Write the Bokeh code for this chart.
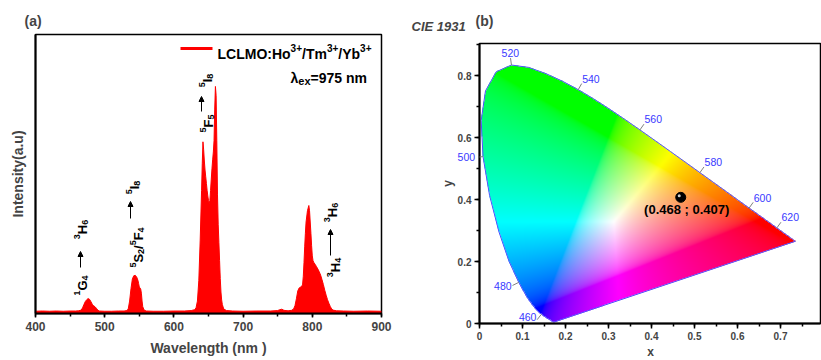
import numpy as np
from bokeh.plotting import figure
from bokeh.layouts import row, column
from bokeh.models import Label, Arrow, NormalHead, SingleIntervalTicker, FixedTicker, Range1d, Spacer
from bokeh.embed import file_html
from bokeh.resources import INLINE

FONT = "Liberation Sans"

# ---------------- data: panel (a) emission spectrum ----------------
wavelength = [400, 410, 420, 430, 440, 450, 458, 462, 466, 468, 470, 472, 474, 476, 478, 480, 482, 484,
              486, 488, 490, 492, 500, 510, 520, 528, 532, 534, 536, 538, 540, 542, 544, 546, 548, 549,
              550, 552, 553, 554, 555, 557, 560, 570, 585, 600, 615, 625, 630, 632, 634, 636, 638, 640,
              641, 642, 643, 644, 645, 646, 647, 648, 649, 650, 651, 652, 653, 654, 655, 656, 657, 658,
              659, 660, 661, 662, 663, 664, 665, 666, 667, 668, 669, 670, 672, 676, 685, 700, 720, 740,
              750, 753, 756, 759, 765, 770, 773, 775, 777, 779, 781, 783, 785, 786, 787, 788, 789, 790,
              791, 793, 795, 796, 797, 798, 799, 800, 801, 802, 804, 806, 808, 810, 812, 814, 816, 818,
              820, 822, 824, 826, 828, 830, 835, 845, 860, 880, 900]
intensity = [0.5, 0.6, 0.5, 0.6, 0.5, 0.6, 0.6, 0.7, 1.0, 2.0, 3.5, 4.8, 5.6, 6.1, 5.8, 4.8, 3.6, 2.9,
             2.5, 1.8, 1.0, 0.6, 0.5, 0.5, 0.6, 0.6, 0.8, 1.5, 5.0, 10.5, 14.8, 16.2, 16.4, 15.8, 14.2, 12.8,
             11.2, 10.4, 8.5, 5.0, 2.5, 1.0, 0.6, 0.5, 0.5, 0.6, 0.6, 0.8, 1.2, 2.0, 5.0, 14.0, 32.0, 54.0,
             66.0, 75.5, 72.0, 67.0, 63.0, 60.0, 57.0, 54.0, 51.5, 49.5, 48.2, 49.5, 54.0, 59.0, 63.5, 67.5, 71.0, 76.0,
             90.0, 100.0, 96.0, 76.0, 52.0, 39.0, 31.0, 23.0, 15.0, 9.0, 5.5, 3.5, 1.5, 0.8, 0.6, 0.5, 0.6, 0.6,
             0.8, 1.2, 1.4, 0.9, 0.7, 0.9, 1.5, 3.0, 6.0, 9.5, 10.8, 11.2, 11.6, 12.5, 16.0, 22.0, 29.0, 35.0,
             40.0, 45.0, 47.3, 45.0, 40.0, 35.0, 29.5, 25.0, 23.0, 22.2, 21.3, 20.3, 19.2, 18.0, 16.5, 14.5, 12.3, 9.8,
             7.6, 5.6, 4.0, 2.6, 1.5, 1.0, 0.7, 0.6, 0.5, 0.6, 0.5]

# rich-text markup: ^x / ^{..} superscript, _x / _{..} subscript
series_label = "LCLMO:Ho^{3+}/Tm^{3+}/Yb^{3+}"
excitation_label = "λ_{ex}=975 nm"
trans_lower = ["^1G_4", "^5S_2/^5F_4", "^5F_5", "^3H_4"]
trans_upper = ["^3H_6", "^5I_8", "^5I_8", "^3H_6"]

# ---------------- data: panel (b) CIE 1931 ----------------
locus_nm = [380, 385, 390, 395, 400, 405, 410, 415, 420, 425, 430, 435, 440, 445, 450, 455, 460, 465,
            470, 475, 480, 485, 490, 495, 500, 505, 510, 515, 520, 525, 530, 535, 540, 545, 550, 555,
            560, 565, 570, 575, 580, 585, 590, 595, 600, 605, 610, 615, 620, 625, 630, 635, 640, 645,
            650, 655, 660, 665, 670, 675, 680, 685, 690, 695, 700]
locus_x = [0.1741, 0.1740, 0.1738, 0.1736, 0.1733, 0.1730, 0.1726, 0.1721, 0.1714, 0.1703, 0.1689, 0.1669,
           0.1644, 0.1611, 0.1566, 0.1510, 0.1440, 0.1355, 0.1241, 0.1096, 0.0913, 0.0687, 0.0454, 0.0235,
           0.0082, 0.0039, 0.0139, 0.0389, 0.0743, 0.1142, 0.1547, 0.1929, 0.2296, 0.2658, 0.3016, 0.3373,
           0.3731, 0.4087, 0.4441, 0.4788, 0.5125, 0.5448, 0.5752, 0.6029, 0.6270, 0.6482, 0.6658, 0.6801,
           0.6915, 0.7006, 0.7079, 0.7140, 0.7190, 0.7230, 0.7260, 0.7283, 0.7300, 0.7311, 0.7320, 0.7327,
           0.7334, 0.7340, 0.7344, 0.7346, 0.7347]
locus_y = [0.0050, 0.0050, 0.0049, 0.0049, 0.0048, 0.0048, 0.0048, 0.0048, 0.0051, 0.0058, 0.0069, 0.0086,
           0.0109, 0.0138, 0.0177, 0.0227, 0.0297, 0.0399, 0.0578, 0.0868, 0.1327, 0.2007, 0.2950, 0.4127,
           0.5384, 0.6548, 0.7502, 0.8120, 0.8338, 0.8262, 0.8059, 0.7816, 0.7543, 0.7243, 0.6923, 0.6589,
           0.6245, 0.5896, 0.5547, 0.5202, 0.4866, 0.4544, 0.4242, 0.3965, 0.3725, 0.3514, 0.3340, 0.3197,
           0.3083, 0.2993, 0.2920, 0.2859, 0.2809, 0.2770, 0.2740, 0.2717, 0.2700, 0.2689, 0.2680, 0.2673,
           0.2666, 0.2660, 0.2656, 0.2654, 0.2653]
marked_nm = [460, 480, 500, 520, 540, 560, 580, 600, 620]
cie_point_x = [0.468]
cie_point_y = [0.407]
cie_point_text = "(0.468 ; 0.407)"

# ---------------- rich text helpers ----------------
CW = {'L': .611, 'C': .722, 'M': .833, 'O': .778, ':': .333, 'H': .722, 'o': .611, '/': .278, 'T': .611,
      'm': .889, 'Y': .667, 'b': .611, '+': .584, 'G': .778, 'S': .667, 'F': .611, 'I': .278, 'λ': .56,
      'e': .556, 'x': .556, '=': .584, ' ': .278, 'n': .611}


def parse_rich(s):
    runs, buf, i = [], "", 0
    while i < len(s):
        c = s[i]
        if c in "^_":
            if buf:
                runs.append((buf, 0))
                buf = ""
            sh = 1 if c == "^" else -1
            if s[i + 1] == "{":
                j = s.index("}", i)
                runs.append((s[i + 2:j], sh))
                i = j + 1
            else:
                runs.append((s[i + 1], sh))
                i += 2
        else:
            buf += c
            i += 1
    if buf:
        runs.append((buf, 0))
    return runs


def twidth(t, size):
    return sum(CW.get(ch, 0.556) for ch in t) * size


def rich_label(fig, x, y, markup, size, small, vertical=False, align="center"):
    runs = parse_rich(markup)
    widths = [twidth(t, small if sh else size) for t, sh in runs]
    pos = -sum(widths) / 2 if align == "center" else 0.0
    for (t, sh), w in zip(runs, widths):
        up = -0.36 * size + (0.40 * size if sh == 1 else (-0.22 * size if sh == -1 else 0))
        if vertical:
            xo, yo, ang = -up, pos, np.pi / 2
        else:
            xo, yo, ang = pos, up, 0.0
        fig.add_layout(Label(x=x, y=y, x_offset=xo, y_offset=yo, text=t,
                             angle=ang, text_align="left", text_baseline="alphabetic", text_font=FONT,
                             text_font_style="bold", text_font_size=f"{small if sh else size}px",
                             text_color="black"))
        pos += w


def side_label(fig, side, cx, cy, text, **kw):
    """Free text placed in a border panel (canvas pixel units), so it is not clipped by the frame."""
    fig.add_layout(Label(x=cx, y=cy, x_units="canvas", y_units="canvas", text=text, text_font=FONT, **kw), side)


# ================= panel (a) =================
A_W, A_H = 400, 360
A_L, A_R, A_T, A_B = 35, 19, 34, 47
A_X0, A_X1 = 400, 900
A_Y0, A_Y1 = -0.5, 123.0
A_SX = (A_W - A_L - A_R) / (A_X1 - A_X0)
A_SY = (A_H - A_T - A_B) / (A_Y1 - A_Y0)


def a_data(px, py):
    return A_X0 + (px - A_L) / A_SX, A_Y0 + (A_H - A_B - py) / A_SY


p1 = figure(width=A_W, height=A_H, output_backend="svg", toolbar_location=None,
            x_range=Range1d(A_X0, A_X1), y_range=Range1d(A_Y0, A_Y1),
            min_border_left=A_L, min_border_right=A_R, min_border_top=A_T, min_border_bottom=A_B)
p1.background_fill_color = "white"
p1.border_fill_color = "white"
p1.outline_line_color = "black"
p1.outline_line_width = 1.5
p1.grid.visible = False

p1.varea(x=wavelength, y1=A_Y0, y2=intensity, fill_color="#ff0000")
p1.line(wavelength, intensity, line_color="#ff0000", line_width=1)

# legend (sample line + rich text)
lx0, ly0 = a_data(180, 48)
lx1, _ = a_data(212, 48)
p1.add_layout(Arrow(x_start=lx0, y_start=ly0, x_end=lx1, y_end=ly0, end=None, line_color="#ff0000",
                    line_width=3))
tx, ty = a_data(217, 48)
rich_label(p1, tx, ty, series_label, 14, 10, align="left")
tx, ty = a_data(290, 72)
rich_label(p1, tx, ty, excitation_label, 14, 11, align="left")

xa = p1.xaxis[0]
xa.ticker = SingleIntervalTicker(interval=100, num_minor_ticks=2)
xa.axis_label = "Wavelength (nm )"
xa.axis_label_text_font = FONT
xa.axis_label_text_font_style = "bold"
xa.axis_label_text_font_size = "14px"
xa.axis_label_standoff = 6
xa.major_label_text_font = FONT
xa.major_label_text_font_style = "bold"
xa.major_label_text_font_size = "12px"
xa.major_label_standoff = 4
xa.axis_line_width = 2
xa.major_tick_in = 0
xa.major_tick_out = 4
xa.minor_tick_in = 0
xa.minor_tick_out = 3
xa.major_tick_line_width = 1.5
xa.minor_tick_line_width = 1.5

ya = p1.yaxis[0]
ya.ticker = FixedTicker(ticks=[])
ya.axis_label = "Intensity(a.u)"
ya.axis_label_text_font = FONT
ya.axis_label_text_font_style = "bold"
ya.axis_label_text_font_size = "14px"
ya.axis_label_standoff = 10
ya.axis_line_width = 2
ya.major_tick_out = 0
ya.minor_tick_out = 0
ya.major_label_standoff = 0

# transition annotations (pixel anchors of the reference layout)
lower_px = [(77, 285), (133, 247), (203, 123), (330, 267)]
arrow_px = [(80, 267, 251), (130, 218, 201), (201, 111, 96), (330, 255, 229)]
upper_px = [(77, 229), (129, 187), (202, 80), (327, 212)]
for i in range(len(trans_lower)):
    x_, y_ = a_data(*lower_px[i])
    rich_label(p1, x_, y_, trans_lower[i], 13, 9, vertical=True)
    x_, y_ = a_data(*upper_px[i])
    rich_label(p1, x_, y_, trans_upper[i], 13, 9, vertical=True)
    ax_px, ay0_px, ay1_px = arrow_px[i]
    x0_, y0_ = a_data(ax_px, ay0_px)
    _, y1_ = a_data(ax_px, ay1_px)
    p1.add_layout(Arrow(x_start=x0_, y_start=y0_, x_end=x0_, y_end=y1_, line_width=1, line_color="black",
                        end=NormalHead(size=5, fill_color="black", line_color="black")))

side_label(p1, "above", 24, 20, "(a)", text_font_style="bold", text_font_size="14px",
           text_baseline="middle", text_align="left")

# ================= panel (b) =================
B_SPACE = 1
B_W, B_H = 421, 358
B_L, B_R, B_T, B_B = 79, 1, 42, 36
X_END = (B_W - B_L - B_R) / 430.0
Y_END = (B_H - B_T - B_B) / 310.0
SX = (B_W - B_L - B_R) / X_END
SY = (B_H - B_T - B_B) / Y_END

p2 = figure(width=B_W, height=B_H, output_backend="svg", toolbar_location=None,
            x_range=Range1d(0, X_END), y_range=Range1d(0, Y_END),
            min_border_left=B_L, min_border_right=B_R, min_border_top=B_T, min_border_bottom=B_B)
p2.background_fill_color = "white"
p2.border_fill_color = "white"
p2.outline_line_color = "black"
p2.outline_line_width = 1.5
p2.grid.visible = False

# chromaticity colour fill
lx_arr = np.array(locus_x)
ly_arr = np.array(locus_y)
nx_img, ny_img = 341, 280
gx = (np.arange(nx_img) + 0.5) / nx_img * X_END
gy = (np.arange(ny_img) + 0.5) / ny_img * Y_END
GX, GY = np.meshgrid(gx, gy)
inside = np.zeros(GX.shape, dtype=bool)
n = len(lx_arr)
j = n - 1
for i in range(n):
    xi, yi, xj, yj = lx_arr[i], ly_arr[i], lx_arr[j], ly_arr[j]
    if yi != yj:
        cond = ((yi > GY) != (yj > GY)) & (GX < (xj - xi) * (GY - yi) / (yj - yi) + xi)
        inside ^= cond
    j = i
Yc = np.maximum(GY, 1e-6)
Xc = GX / Yc
Zc = (1 - GX - GY) / Yc
R = 3.2406 * Xc - 1.5372 - 0.4986 * Zc
G = -0.9689 * Xc + 1.8758 + 0.0415 * Zc
B = 0.0557 * Xc - 0.2040 + 1.0570 * Zc
rgb = np.clip(np.stack([R, G, B], axis=-1), 0, None)
rgb = rgb / np.maximum(rgb.max(axis=-1, keepdims=True), 1e-9)
rgb = np.where(rgb <= 0.0031308, 12.92 * rgb, 1.055 * np.power(rgb, 1 / 2.4) - 0.055)
img = np.zeros((ny_img, nx_img, 4), dtype=np.uint8)
img[..., :3] = np.clip(rgb * 255, 0, 255).astype(np.uint8)
img[..., 3] = np.where(inside, 255, 0).astype(np.uint8)
img32 = img.view(dtype=np.uint32).reshape((ny_img, nx_img))
p2.image_rgba(image=[img32], x=0, y=0, dw=X_END, dh=Y_END)

p2.line(locus_x + [locus_x[0]], locus_y + [locus_y[0]], line_color="#5050ff", line_width=1)

# wavelength markers
cx_px, cy_px = 0.33 * SX, 0.33 * SY
tick_len = 7
for wl in marked_nm:
    k = locus_nm.index(wl)
    x0, y0 = locus_x[k], locus_y[k]
    tx_, ty_ = (locus_x[k + 1] - locus_x[k - 1]) * SX, (locus_y[k + 1] - locus_y[k - 1]) * SY
    nrm = np.hypot(tx_, ty_)
    nxp, nyp = ty_ / nrm, -tx_ / nrm
    if nxp * (x0 * SX - cx_px) + nyp * (y0 * SY - cy_px) < 0:
        nxp, nyp = -nxp, -nyp
    p2.add_layout(Arrow(x_start=x0, y_start=y0, x_end=x0 + nxp * tick_len / SX, y_end=y0 + nyp * tick_len / SY,
                        end=None, line_color="#808080", line_width=1))
    if nyp > 0.9:
        align, base = "center", "bottom"
    elif nxp > 0:
        align, base = "left", "bottom"
    else:
        align, base = "right", "middle"
    off = tick_len + 1
    xo, yo = nxp * off, nyp * off
    if nyp < -0.5:
        yo = nyp * off * 0.4
    lab_kw = dict(text_align=align, text_baseline=base, text_font_size="10.5px", text_color="#3838ff")
    if x0 * SX + xo < 12:
        # label falls left of the frame: put it in the left border panel
        side_label(p2, "left", B_L + x0 * SX + xo, B_T + (Y_END - y0) * SY - yo, str(wl), **lab_kw)
    else:
        p2.add_layout(Label(x=x0, y=y0, x_offset=xo, y_offset=yo, text=str(wl), text_font=FONT, **lab_kw))

p2.scatter(cie_point_x, cie_point_y, size=10, fill_color="black", line_color="black")
p2.scatter([cie_point_x[0] - 1.5 / SX], [cie_point_y[0] + 1.5 / SY], size=3, fill_color="#d0d0d0",
           line_color=None)
p2.add_layout(Label(x=cie_point_x[0], y=cie_point_y[0], x_offset=6, y_offset=-5, text=cie_point_text,
                    text_align="center", text_baseline="top", text_font=FONT, text_font_style="bold",
                    text_font_size="13px", text_color="black"))

bx = p2.xaxis[0]
bx.ticker = SingleIntervalTicker(interval=0.1, num_minor_ticks=2)
by = p2.yaxis[0]
by.ticker = SingleIntervalTicker(interval=0.2, num_minor_ticks=2)
by.axis_label = "y"
for ax_ in (bx, by):
    ax_.axis_label_text_font = FONT
    ax_.axis_label_text_font_style = "bold"
    ax_.axis_label_text_font_size = "12px"
    ax_.major_label_text_font = FONT
    ax_.major_label_text_font_style = "bold"
    ax_.major_label_text_font_size = "10px"
    ax_.axis_line_width = 2
    ax_.major_tick_in = 0
    ax_.major_tick_out = 5
    ax_.minor_tick_in = 0
    ax_.minor_tick_out = 3
    ax_.major_tick_line_width = 1.5
    ax_.minor_tick_line_width = 1.5
    ax_.major_label_standoff = 3
by.axis_label_standoff = 0

side_label(p2, "below", 250, 351 - B_SPACE, "x", text_font_style="bold", text_font_size="12px",
           text_baseline="middle", text_align="center")
side_label(p2, "above", 11, 26 - B_SPACE, "CIE 1931", text_font_style="bold italic", text_font_size="13px",
           text_baseline="middle", text_align="left")
side_label(p2, "above", 75, 20 - B_SPACE, "(b)", text_font_style="bold", text_font_size="14px",
           text_baseline="middle", text_align="left")

layout = row(p1, column(Spacer(height=B_SPACE, width=B_W), p2))
open("out.html", "w").write(file_html(layout, INLINE))
